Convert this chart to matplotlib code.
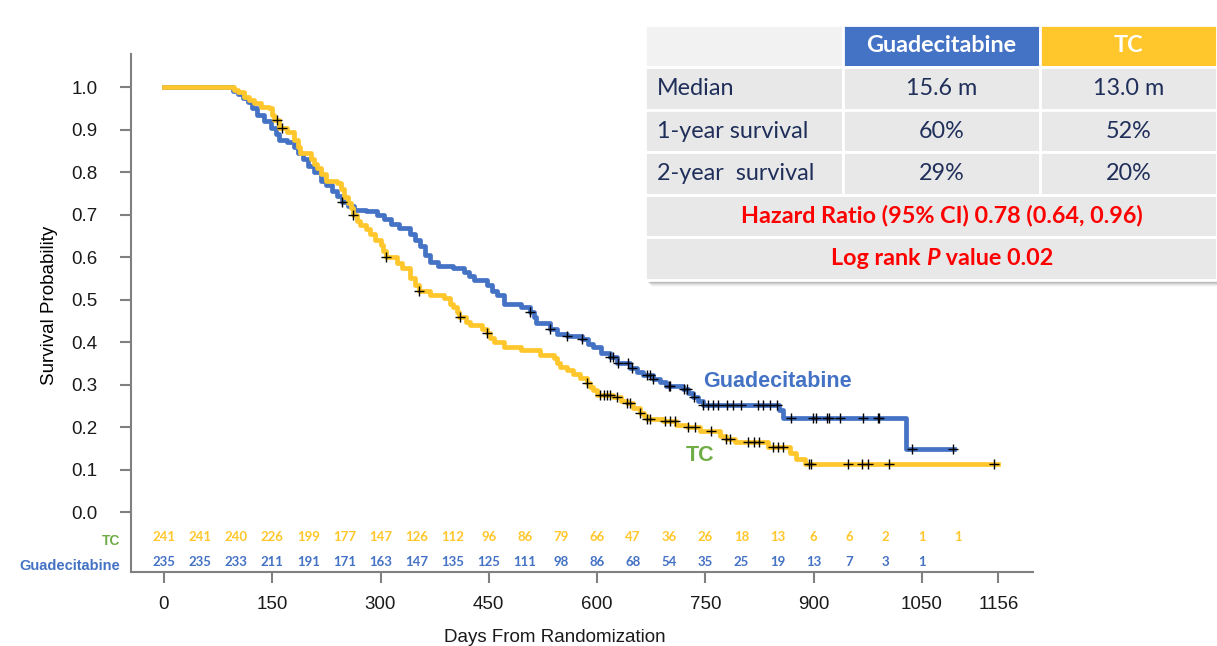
import numpy as np
import matplotlib
matplotlib.use("Agg")
import matplotlib.pyplot as plt
from matplotlib.patches import Rectangle

plt.rcParams["font.family"] = ["Liberation Sans", "DejaVu Sans"]

W, H = 1217, 646

BLUE = "#4472c4"
GOLD = "#ffc72c"
GREEN = "#70ad47"
RED = "#ff0000"
NAVY = "#1f2f5a"
AXIS_GREY = "#808080"
TABLE_FONT = ["Lato", "DejaVu Sans"]
TABLE_SIZE = 16.8

# Kaplan-Meier steps: (days, survival probability)
guad_days = [0, 92, 95, 103, 110, 116, 122, 129, 138, 148, 155, 160, 170, 180,
             186, 192, 200, 208, 217, 225, 233, 240, 247, 255, 263, 280, 295,
             305, 314, 325, 341, 348, 355, 362, 369, 380, 401, 415, 422, 429,
             448, 455, 461, 471, 494, 507, 512, 516, 535, 545, 558, 579, 588,
             595, 605, 618, 627, 646, 655, 664, 678, 687, 696, 719, 726, 733,
             740, 747, 852, 858, 1028, 1095]
guad_surv = [1.0, 1.0, 0.99, 0.985, 0.975, 0.965, 0.95, 0.935, 0.92, 0.905,
             0.89, 0.875, 0.87, 0.86, 0.845, 0.83, 0.815, 0.80, 0.78, 0.77,
             0.755, 0.745, 0.73, 0.72, 0.712, 0.708, 0.70, 0.69, 0.678, 0.668,
             0.655, 0.64, 0.625, 0.605, 0.588, 0.58, 0.575, 0.565, 0.555,
             0.546, 0.534, 0.52, 0.51, 0.49, 0.482, 0.471, 0.46, 0.445, 0.432,
             0.42, 0.414, 0.408, 0.395, 0.388, 0.375, 0.366, 0.35, 0.34, 0.33,
             0.322, 0.313, 0.305, 0.296, 0.29, 0.28, 0.272, 0.262, 0.252, 0.24,
             0.222, 0.148, 0.148]
guad_cens = [247, 507, 535, 558, 579, 618, 622, 629, 643, 648, 669, 674, 678,
             699, 701, 720, 724, 734, 747, 754, 761, 768, 780, 788, 800, 823,
             830, 839, 849, 869, 899, 904, 918, 922, 936, 968, 989, 991, 1037,
             1093]

tc_days = [0, 92, 97, 102, 111, 118, 125, 134, 146, 150, 153, 160, 171, 180,
           185, 189, 203, 208, 212, 218, 224, 240, 245, 249, 255, 259, 262, 267,
           272, 280, 286, 293, 300, 304, 307, 323, 330, 341, 348, 354, 369, 388,
           396, 401, 406, 409, 418, 424, 440, 447, 452, 457, 471, 494, 521, 540,
           545, 549, 558, 567, 576, 586, 590, 595, 600, 622, 633, 641, 650, 659,
           665, 669, 692, 710, 725, 742, 770, 778, 791, 837, 867, 876, 888, 1155]
tc_surv = [1.0, 1.0, 0.993, 0.988, 0.977, 0.97, 0.962, 0.954, 0.95, 0.935,
           0.922, 0.905, 0.895, 0.875, 0.86, 0.845, 0.832, 0.82, 0.81, 0.795,
           0.78, 0.775, 0.76, 0.742, 0.728, 0.715, 0.698, 0.685, 0.675, 0.665,
           0.655, 0.64, 0.628, 0.615, 0.60, 0.585, 0.575, 0.552, 0.535, 0.52,
           0.512, 0.503, 0.49, 0.483, 0.47, 0.46, 0.448, 0.44, 0.43, 0.422,
           0.41, 0.40, 0.388, 0.381, 0.37, 0.362, 0.352, 0.342, 0.335, 0.326,
           0.315, 0.304, 0.295, 0.287, 0.275, 0.27, 0.262, 0.256, 0.244, 0.232,
           0.225, 0.22, 0.215, 0.205, 0.201, 0.19, 0.179, 0.173, 0.165, 0.152,
           0.138, 0.126, 0.114, 0.114]
tc_cens = [157, 163, 262, 308, 354, 410, 447, 586, 604, 609, 614, 618, 627,
           641, 646, 660, 669, 674, 694, 701, 708, 726, 736, 758, 779, 784, 809,
           818, 825, 844, 851, 858, 893, 897, 948, 967, 976, 1004, 1150]

# numbers at risk
risk_days_tc = np.arange(0, 1101, 50)
risk_tc = [241, 241, 240, 226, 199, 177, 147, 126, 112, 96, 86, 79, 66, 47,
           36, 26, 18, 13, 6, 6, 2, 1, 1]
risk_days_guad = np.arange(0, 1051, 50)
risk_guad = [235, 235, 233, 211, 191, 171, 163, 147, 135, 125, 111, 98, 86,
             68, 54, 35, 25, 19, 13, 7, 3, 1]

x_ticks = [0, 150, 300, 450, 600, 750, 900, 1050, 1156]
y_ticks = np.round(np.arange(0, 1.01, 0.1), 1)

# summary table
tab_cols = ["Guadecitabine", "TC"]
tab_rows = ["Median", "1-year survival", "2-year  survival"]
tab_guad = ["15.6 m", "60%", "29%"]
tab_tc = ["13.0 m", "52%", "20%"]
hr_text = "Hazard Ratio (95% CI) 0.78 (0.64, 0.96)"
p_value = "0.02"


def surv_at(days, surv, t):
    idx = np.searchsorted(days, t, side="right") - 1
    return np.asarray(surv)[idx]


fig = plt.figure(figsize=(W / 100, H / 100), dpi=100)
ax = fig.add_axes([131 / W, 74 / H, (1033 - 131) / W, (572 - 54) / H])

ax.step(guad_days, guad_surv, where="post", color=BLUE, lw=3.4, zorder=2)
ax.step(tc_days, tc_surv, where="post", color=GOLD, lw=3.4, zorder=3)
ax.plot(guad_cens, surv_at(guad_days, guad_surv, guad_cens), "+", color="black",
        ms=6.5, mew=1.0, zorder=4)
ax.plot(tc_cens, surv_at(tc_days, tc_surv, tc_cens), "+", color="black",
        ms=6.5, mew=1.0, zorder=4)

ax.text(747, 0.308, "Guadecitabine", color=BLUE, fontsize=15.5, weight="bold",
        va="center", ha="left")
ax.text(723, 0.134, "TC", color=GREEN, fontsize=15.5, weight="bold",
        va="center", ha="left")

for d, n in zip(risk_days_tc, risk_tc):
    ax.text(d, -0.059, str(n), color=GOLD, fontsize=9.5, weight="bold",
            ha="center", va="center", family=TABLE_FONT)
for d, n in zip(risk_days_guad, risk_guad):
    ax.text(d, -0.118, str(n), color=BLUE, fontsize=9.5, weight="bold",
            ha="center", va="center", family=TABLE_FONT)

ax.set_xlim(-45.7, 1204)
ax.set_ylim(-0.141, 1.078)
ax.set_xticks(x_ticks)
ax.set_xticklabels([str(t) for t in x_ticks])
ax.set_yticks(y_ticks)
ax.set_yticklabels([f"{t:.1f}" for t in y_ticks])
ax.tick_params(axis="both", colors=AXIS_GREY, labelcolor="#1a1a1a",
               labelsize=13.5, length=8, width=1.5)
ax.tick_params(axis="y", pad=16)
ax.tick_params(axis="x", pad=9)
for side in ("top", "right"):
    ax.spines[side].set_visible(False)
for side in ("left", "bottom"):
    ax.spines[side].set_color(AXIS_GREY)
    ax.spines[side].set_linewidth(1.5)
ax.set_ylabel("Survival Probability", fontsize=13.5)
ax.yaxis.set_label_coords(-0.081, 1 - (305 - 54) / (572 - 54))

# overlay in pixel coordinates for the row labels, x label and table
ov = fig.add_axes([0, 0, 1, 1], zorder=5)
ov.set_xlim(0, W)
ov.set_ylim(H, 0)
ov.axis("off")

ov.text(120, 541, "TC", color=GREEN, fontsize=10, weight="bold",
        ha="right", va="center")
ov.text(120, 566, "Guadecitabine", color=BLUE, fontsize=10.5, weight="bold",
        ha="right", va="center")
ov.text(555, 638, "Days From Randomization", fontsize=13.5, ha="center",
        va="center", color="#1a1a1a")

col_x = [645, 843, 1040, 1217]
row_y = [25, 67, 110, 152, 195, 237, 280]

# soft shadow
for i, a in enumerate([0.10, 0.08, 0.06, 0.04, 0.025]):
    ov.add_patch(Rectangle((col_x[0] + 3 + i, row_y[0] + 3 + i),
                           col_x[-1] - col_x[0], row_y[-1] - row_y[0],
                           facecolor="black", alpha=a, lw=0))


def cell(x0, x1, y0, y1, fc):
    ov.add_patch(Rectangle((x0, y0), x1 - x0, y1 - y0, facecolor=fc,
                           edgecolor="white", lw=2))


cell(col_x[0], col_x[1], row_y[0], row_y[1], "#f2f2f2")
cell(col_x[1], col_x[2], row_y[0], row_y[1], BLUE)
cell(col_x[2], col_x[3], row_y[0], row_y[1], GOLD)
for r in range(3):
    for c in range(3):
        cell(col_x[c], col_x[c + 1], row_y[r + 1], row_y[r + 2], "#e8e8e8")
for r in (4, 5):
    cell(col_x[0], col_x[3], row_y[r], row_y[r + 1], "#e8e8e8")

mid = lambda a, b: (a + b) / 2
for c, name in enumerate(tab_cols):
    ov.text(mid(col_x[c + 1], col_x[c + 2]), mid(row_y[0], row_y[1]), name,
            color="white", fontsize=TABLE_SIZE, weight="bold", ha="center",
            va="center", family=TABLE_FONT)
for r, name in enumerate(tab_rows):
    yc = mid(row_y[r + 1], row_y[r + 2])
    ov.text(657, yc, name, color=NAVY, fontsize=TABLE_SIZE, ha="left",
            va="center", family=TABLE_FONT)
    ov.text(mid(col_x[1], col_x[2]), yc, tab_guad[r], color=NAVY,
            fontsize=TABLE_SIZE, ha="center", va="center", family=TABLE_FONT)
    ov.text(mid(col_x[2], col_x[3]), yc, tab_tc[r], color=NAVY,
            fontsize=TABLE_SIZE, ha="center", va="center", family=TABLE_FONT)

ov.text(942, mid(row_y[4], row_y[5]), hr_text, color=RED, fontsize=TABLE_SIZE,
        weight="bold", ha="center", va="center", family=TABLE_FONT)

# "Log rank P value" with an italic P, laid out piece by piece
renderer = fig.canvas.get_renderer()
pieces = [("Log rank ", "normal"), ("P", "italic"), (" value " + p_value, "normal")]
yc = mid(row_y[5], row_y[6])
objs = []
for s, style in pieces:
    t = ov.text(0, yc, s, color=RED, fontsize=TABLE_SIZE, weight="bold",
                style=style, ha="left", va="center", family=TABLE_FONT)
    objs.append(t)
widths = [t.get_window_extent(renderer).width for t in objs]
x = 942 - sum(widths) / 2
for t, w in zip(objs, widths):
    t.set_x(x)
    x += w

fig.savefig("out.png", dpi=100)
